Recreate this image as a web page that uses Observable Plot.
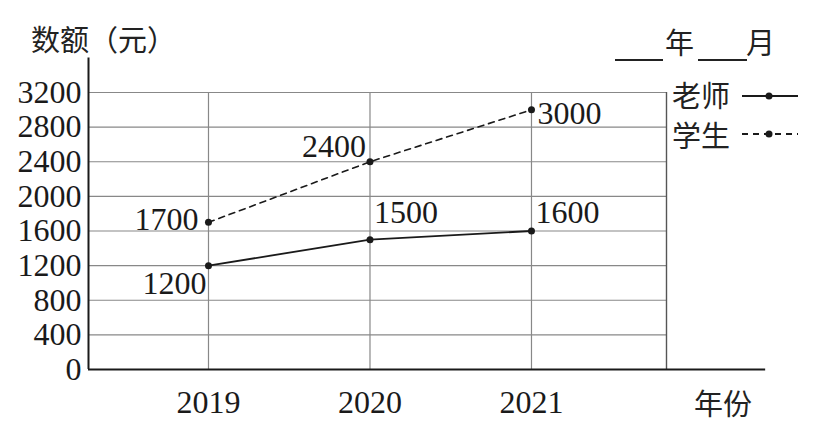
<!DOCTYPE html>
<html><head><meta charset="utf-8">
<script src="https://cdn.jsdelivr.net/npm/d3@7"></script>
<script src="https://cdn.jsdelivr.net/npm/@observablehq/plot@0.6"></script>
<style>
body{margin:0;background:#fff;}
#wrap{position:relative;width:825px;height:428px;overflow:hidden;}
#wrap svg text{font-family:"Liberation Serif","Times New Roman",serif !important;}
.cjk{position:absolute;font-family:"Noto Sans CJK SC";font-size:29px;color:#222;line-height:30px;height:30px;white-space:nowrap;}
.ul{position:absolute;height:0;border-bottom:2px solid #222;}
svg.leg{position:absolute;overflow:visible;}
</style></head><body><div id="wrap"></div>
<script>
const years = [2019, 2020, 2021];
const teacher = [1200, 1500, 1600];
const student = [1700, 2400, 3000];
const yTicks = [0, 400, 800, 1200, 1600, 2000, 2400, 2800, 3200];
const yLabel = "数额（元）";
const xLabel = "年份";
const seriesNames = ["老师", "学生"];

const xDomain = [2018.257, 2021.836];
const yMax = 3200;
const serif = "Liberation Serif";
const ink = "#1a1a1a";
const fs = 32;

const tData = years.map((x, i) => ({x, y: teacher[i]}));
const sData = years.map((x, i) => ({x, y: student[i]}));

const lab = (d, opts) => Plot.text([d], {x: "x", y: "y", text: v => String(v.y), fontSize: fs, fontFamily: serif, fill: ink, ...opts});

const chart = Plot.plot({
  width: 825, height: 428,
  marginLeft: 88, marginRight: 159, marginTop: 92, marginBottom: 59,
  style: {background: "#fff", overflow: "visible", fontFamily: serif},
  x: {domain: xDomain, ticks: years, tickFormat: d3.format("d"), label: null},
  y: {domain: [0, yMax], ticks: yTicks, tickFormat: d3.format("d"), label: null},
  marks: [
    Plot.ruleY(yTicks.filter(v => v > 0), {x1: xDomain[0], x2: xDomain[1], stroke: "#888", strokeWidth: 1.2}),
    Plot.ruleX(years, {y1: 0, y2: yMax, stroke: "#888", strokeWidth: 1.2}),
    Plot.ruleX([xDomain[1]], {y1: 0, y2: yMax, stroke: "#555", strokeWidth: 1.4}),
    Plot.ruleX([xDomain[0]], {y1: 0, y2: 3600, stroke: ink, strokeWidth: 2, clip: false}),
    Plot.ruleY([0], {x1: xDomain[0], x2: 2022.45, stroke: ink, strokeWidth: 2, clip: false}),
    Plot.axisY({ticks: yTicks, tickSize: 0, tickPadding: 7, fontSize: fs, fontFamily: serif, fill: ink, tickFormat: d3.format("d"), label: null}),
    Plot.axisX({ticks: years, tickSize: 0, tickPadding: 21, fontSize: fs, fontFamily: serif, fill: ink, tickFormat: d3.format("d"), label: null}),
    Plot.line(tData, {x: "x", y: "y", stroke: ink, strokeWidth: 1.8}),
    Plot.line(sData, {x: "x", y: "y", stroke: ink, strokeWidth: 1.6, strokeDasharray: "6,5"}),
    Plot.dot(tData, {x: "x", y: "y", r: 3.5, fill: ink}),
    Plot.dot(sData, {x: "x", y: "y", r: 3.5, fill: ink}),
    lab(sData[0], {textAnchor: "end", dx: -10, dy: -3}),
    lab(tData[0], {textAnchor: "end", dx: -2, dy: 18}),
    lab(sData[1], {textAnchor: "end", dx: -4, dy: -15}),
    lab(tData[1], {textAnchor: "start", dx: 4, dy: -27}),
    lab(tData[2], {textAnchor: "start", dx: 4, dy: -18}),
    lab(sData[2], {textAnchor: "start", dx: 6, dy: 4})
  ]
});
const wrap = document.getElementById("wrap");
wrap.appendChild(chart);

function addText(txt, left, top) {
  const d = document.createElement("div");
  d.className = "cjk"; d.textContent = txt;
  d.style.left = left + "px"; d.style.top = top + "px";
  wrap.appendChild(d);
}
function addUl(left, top, w) {
  const d = document.createElement("div");
  d.className = "ul"; d.style.left = left + "px"; d.style.top = top + "px"; d.style.width = w + "px";
  wrap.appendChild(d);
}
addText(yLabel, 31, 23);
addText(xLabel, 694, 387);
addUl(615, 59, 48);
addText("年", 665, 26);
addUl(698, 59, 49);
addText("月", 746, 26);
addText(seriesNames[0], 672, 79);
addText(seriesNames[1], 672, 119);

function addLeg(top, dash) {
  const ns = "http://www.w3.org/2000/svg";
  const s = document.createElementNS(ns, "svg");
  s.setAttribute("class", "leg");
  s.setAttribute("width", 60); s.setAttribute("height", 10);
  s.style.left = "740px"; s.style.top = (top - 5) + "px";
  const l = document.createElementNS(ns, "line");
  l.setAttribute("x1", 2); l.setAttribute("x2", 58); l.setAttribute("y1", 5); l.setAttribute("y2", 5);
  l.setAttribute("stroke", ink); l.setAttribute("stroke-width", 1.8);
  if (dash) l.setAttribute("stroke-dasharray", "6,5");
  const c = document.createElementNS(ns, "circle");
  c.setAttribute("cx", 29); c.setAttribute("cy", 5); c.setAttribute("r", 3.5); c.setAttribute("fill", ink);
  s.appendChild(l); s.appendChild(c);
  wrap.appendChild(s);
}
addLeg(96, false);
addLeg(134, true);
</script></body></html>
